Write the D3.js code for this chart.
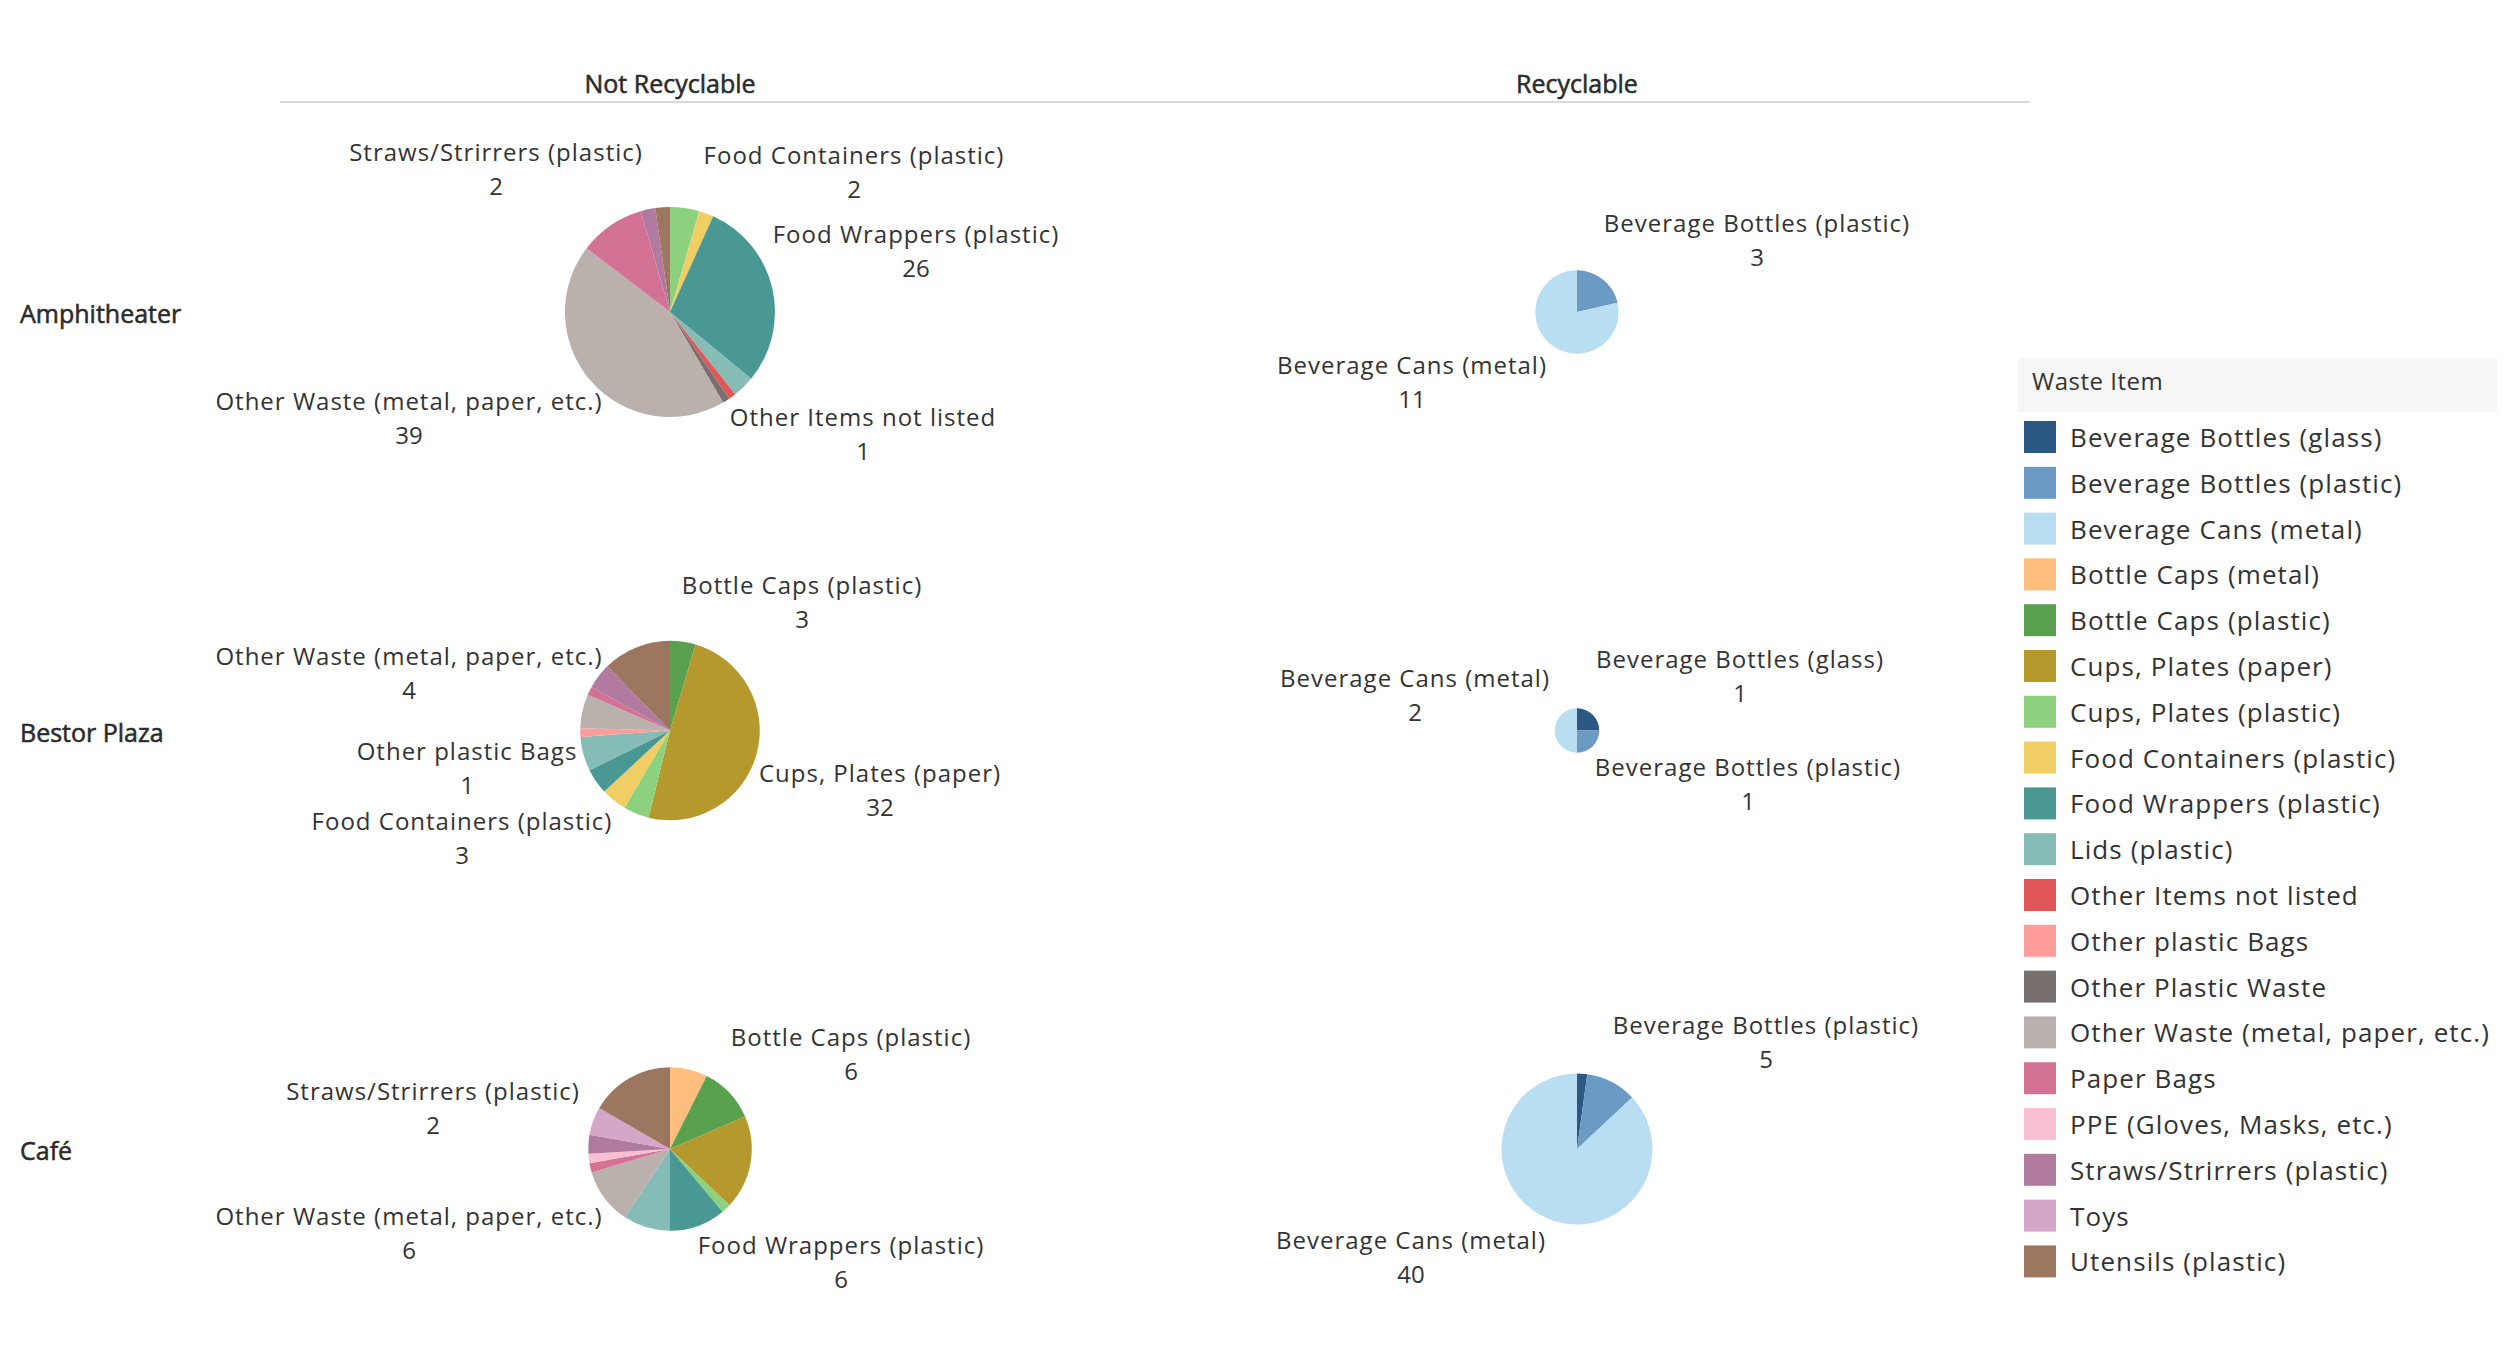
<!DOCTYPE html>
<html>
<head>
<meta charset="utf-8">
<script src="https://cdn.jsdelivr.net/npm/d3@7"></script>
<style>
  html, body { margin: 0; padding: 0; background: #fff; }
  svg text { font-family: "Open Sans", "Noto Sans", sans-serif; fill: #333; }
  svg text.col-head, svg text.row-head { stroke: #2b2b2b; stroke-width: 0.55px; fill: #2b2b2b; }
</style>
</head>
<body>
<div id="chart"></div>
<script>
// categories
const locations = ["Amphitheater", "Bestor Plaza", "Café"];
const groups = ["Not Recyclable", "Recyclable"];
const wasteItems = [
    "Beverage Bottles (glass)", "Beverage Bottles (plastic)", "Beverage Cans (metal)",
    "Bottle Caps (metal)", "Bottle Caps (plastic)", "Cups, Plates (paper)",
    "Cups, Plates (plastic)", "Food Containers (plastic)", "Food Wrappers (plastic)",
    "Lids (plastic)", "Other Items not listed", "Other plastic Bags",
    "Other Plastic Waste", "Other Waste (metal, paper, etc.)", "Paper Bags",
    "PPE (Gloves, Masks, etc.)", "Straws/Strirrers (plastic)", "Toys", "Utensils (plastic)"
];

// counts, one per waste item, in the order above
const amphitheaterNotRecyclable = [0, 0, 0, 0, 0, 0, 4, 2, 26, 3, 1, 0, 1, 39, 9, 0, 2, 0, 2];
const amphitheaterRecyclable    = [0, 3, 11, 0, 0, 0, 0, 0, 0, 0, 0, 0, 0, 0, 0, 0, 0, 0, 0];
const bestorNotRecyclable       = [0, 0, 0, 0, 3, 32, 3, 3, 3, 4, 0, 1, 0, 4, 1, 0, 3, 0, 8];
const bestorRecyclable          = [1, 1, 2, 0, 0, 0, 0, 0, 0, 0, 0, 0, 0, 0, 0, 0, 0, 0, 0];
const cafeNotRecyclable         = [0, 0, 0, 4, 6, 10, 1, 0, 6, 5, 0, 0, 0, 6, 1, 1, 2, 3, 9];
const cafeRecyclable            = [1, 5, 40, 0, 0, 0, 0, 0, 0, 0, 0, 0, 0, 0, 0, 0, 0, 0, 0];

const palette = [
    "#2a5783", "#6b9ac4", "#b9ddf1", "#ffbe7d", "#59a14f", "#b6992d",
    "#8cd17d", "#f1ce63", "#499894", "#86bcb6", "#e15759", "#ff9d9a",
    "#79706e", "#bab0ac", "#d37295", "#fabfd2", "#b07aa1", "#d4a6c8", "#9d7660"
];

const cells = [
    { location: "Amphitheater", group: "Not Recyclable", counts: amphitheaterNotRecyclable },
    { location: "Amphitheater", group: "Recyclable", counts: amphitheaterRecyclable },
    { location: "Bestor Plaza", group: "Not Recyclable", counts: bestorNotRecyclable },
    { location: "Bestor Plaza", group: "Recyclable", counts: bestorRecyclable },
    { location: "Café", group: "Not Recyclable", counts: cafeNotRecyclable },
    { location: "Café", group: "Recyclable", counts: cafeRecyclable }
];

// where Tableau put the mark labels, relative to each pie centre: [item index, dx, dy]
const labelPlacement = {
    "Amphitheater|Not Recyclable": [[16, -174, -144], [7, 184, -141], [8, 246, -62], [10, 193, 121], [13, -261, 105]],
    "Amphitheater|Recyclable": [[1, 180, -73], [2, -165, 69]],
    "Bestor Plaza|Not Recyclable": [[4, 132, -129], [13, -261, -58], [11, -203, 37], [7, -208, 107], [5, 210, 59]],
    "Bestor Plaza|Recyclable": [[2, -162, -36], [0, 163, -55], [1, 171, 53]],
    "Café|Not Recyclable": [[4, 181, -96], [16, -237, -42], [13, -261, 83], [8, 171, 112]],
    "Café|Recyclable": [[1, 189, -108], [2, -166, 107]]
};

const W = 2517, H = 1354;

const svg = d3.select("#chart").append("svg")
    .attr("width", W)
    .attr("height", H);

const xScale = d3.scalePoint().domain(groups).range([670, 1577]);
const yScale = d3.scalePoint().domain(locations).range([312, 1149]);
const color = d3.scaleOrdinal().domain(wasteItems).range(palette);

const maxTotal = d3.max(cells, c => d3.sum(c.counts));
const rScale = d3.scaleSqrt().domain([0, maxTotal]).range([0, 105]);

// column headers
svg.append("line")
    .attr("x1", 280).attr("x2", 2030)
    .attr("y1", 102).attr("y2", 102)
    .attr("stroke", "#d9d9d9")
    .attr("stroke-width", 2);

svg.selectAll("text.col-head")
    .data(groups)
    .enter().append("text")
    .attr("class", "col-head")
    .attr("x", d => xScale(d))
    .attr("y", 83)
    .attr("text-anchor", "middle")
    .attr("dominant-baseline", "central")
    .style("font-size", "25px")
    .text(d => d);

// row headers
svg.selectAll("text.row-head")
    .data(locations)
    .enter().append("text")
    .attr("class", "row-head")
    .attr("x", 20)
    .attr("y", d => yScale(d) + 1)
    .attr("dominant-baseline", "central")
    .style("font-size", "25px")
    .text(d => d);

const pie = d3.pie().sort(null).value(d => d.value);

cells.forEach(function(cell) {
    let total = d3.sum(cell.counts);
    let r = rScale(total);
    let cx = xScale(cell.group), cy = yScale(cell.location);
    let slices = wasteItems.map((name, i) => ({ name: name, index: i, value: cell.counts[i] }))
        .filter(d => d.value > 0);

    let g = svg.append("g")
        .attr("transform", "translate(" + cx + "," + cy + ")");

    let arc = d3.arc().innerRadius(0).outerRadius(r);

    g.selectAll("path")
        .data(pie(slices))
        .enter().append("path")
        .attr("d", arc)
        .attr("fill", d => color(d.data.name));

    let labels = labelPlacement[cell.location + "|" + cell.group] || [];
    let lg = g.selectAll("g.lbl")
        .data(labels)
        .enter().append("g")
        .attr("class", "lbl")
        .attr("transform", d => "translate(" + d[1] + "," + d[2] + ")");

    lg.append("text")
        .attr("y", -17)
        .attr("text-anchor", "middle")
        .attr("dominant-baseline", "central")
        .style("font-size", "24px")
        .style("letter-spacing", "1px")
        .text(d => wasteItems[d[0]]);

    lg.append("text")
        .attr("y", 17)
        .attr("text-anchor", "middle")
        .attr("dominant-baseline", "central")
        .style("font-size", "24px")
        .text(d => cell.counts[d[0]]);
});

// legend
const legend = svg.append("g").attr("transform", "translate(2018,358)");

legend.append("rect")
    .attr("width", 479)
    .attr("height", 54)
    .attr("fill", "#f6f6f6");

legend.append("text")
    .attr("x", 14)
    .attr("y", 22)
    .attr("dominant-baseline", "central")
    .style("font-size", "24px")
    .style("letter-spacing", "0.5px")
    .text("Waste Item");

const rowY = d3.scaleLinear().domain([0, wasteItems.length - 1]).range([79, 79 + 18 * 45.8]);

const items = legend.selectAll("g.item")
    .data(wasteItems)
    .enter().append("g")
    .attr("class", "item")
    .attr("transform", (d, i) => "translate(0," + rowY(i) + ")");

items.append("rect")
    .attr("x", 6)
    .attr("y", -16)
    .attr("width", 32)
    .attr("height", 32)
    .attr("fill", d => color(d));

items.append("text")
    .attr("x", 52)
    .attr("dominant-baseline", "central")
    .style("font-size", "26px")
    .style("letter-spacing", "1.1px")
    .text(d => d);
</script>
</body>
</html>
